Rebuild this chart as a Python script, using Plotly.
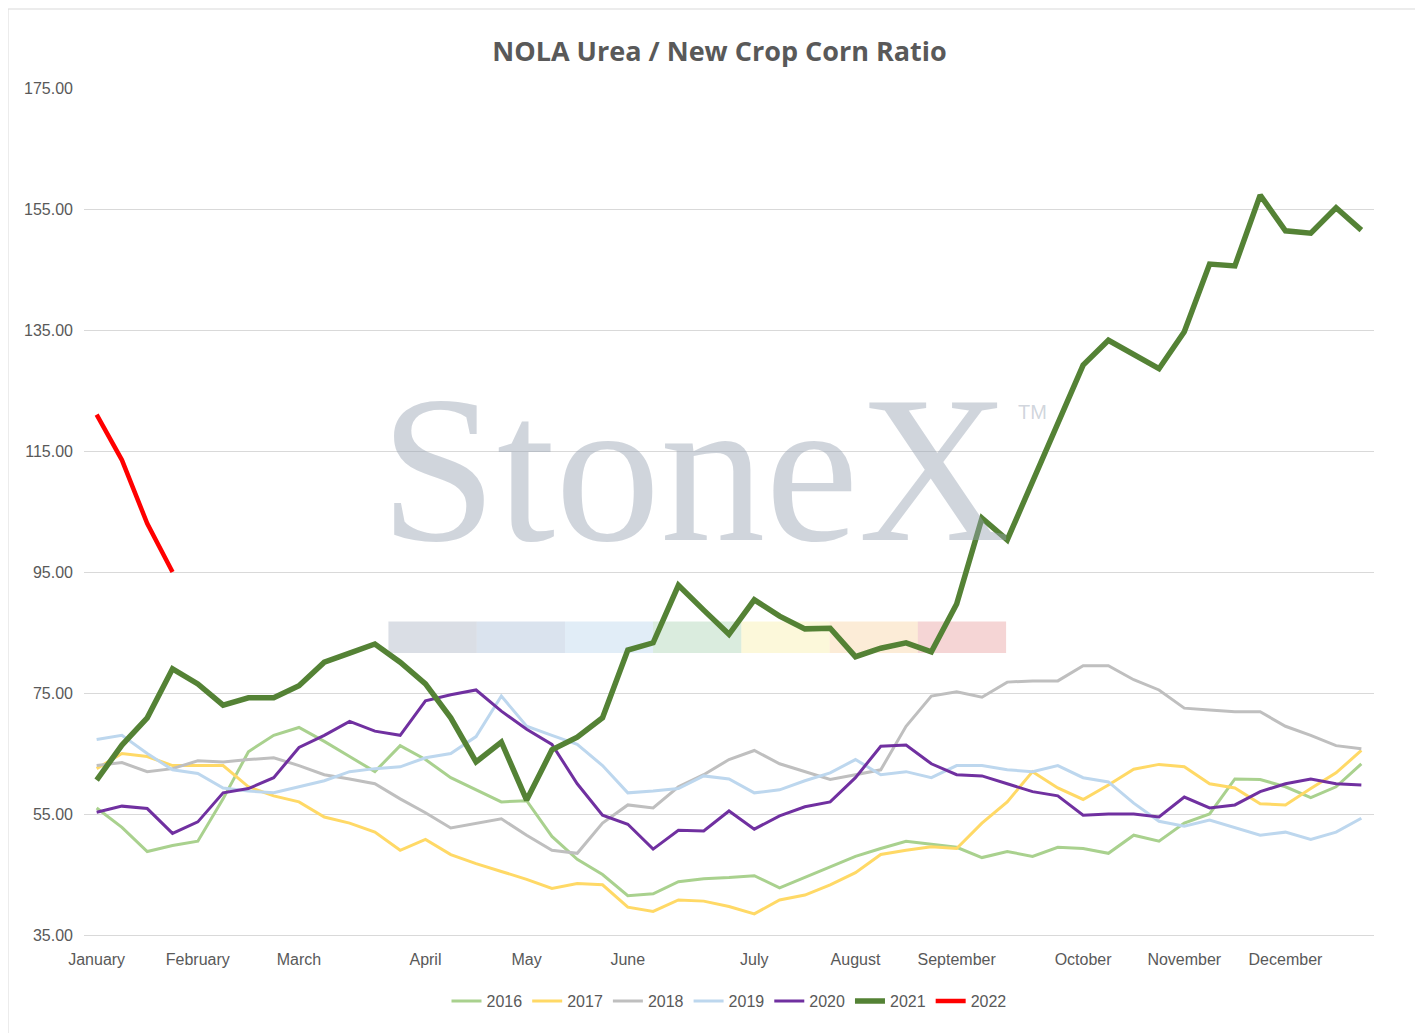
import plotly.graph_objects as go

month_labels = ["January", "February", "March", "April", "May", "June", "July",
                "August", "September", "October", "November", "December"]
month_pos = [0, 4, 8, 13, 17, 21, 26, 30, 34, 39, 43, 47]

y2016 = [56.0, 52.8, 48.8, 49.8, 50.5, 57.5, 65.3, 68.0, 69.3, 67.0, 64.5, 62.0, 66.3, 64.0, 61.0, 59.0, 57.0,
         57.2, 51.3, 47.5, 45.0, 41.5, 41.8, 43.8, 44.3, 44.5, 44.8, 42.8, 44.5, 46.3, 48.0, 49.3, 50.5, 50.0,
         49.5, 47.8, 48.8, 48.0, 49.5, 49.3, 48.5, 51.5, 50.5, 53.5, 55.0, 60.8, 60.7, 59.5, 57.7, 59.5, 63.3]
y2017 = [62.5, 65.0, 64.5, 63.0, 63.0, 63.0, 59.5, 58.0, 57.0, 54.5, 53.5, 52.0, 49.0, 50.8, 48.3, 46.8, 45.5,
         44.2, 42.7, 43.5, 43.3, 39.6, 38.9, 40.8, 40.6, 39.7, 38.5, 40.8, 41.6, 43.3, 45.3, 48.3, 49.0, 49.6,
         49.3, 53.5, 57.0, 62.0, 59.3, 57.4, 59.8, 62.4, 63.2, 62.8, 60.0, 59.3, 56.7, 56.5, 59.2, 61.8, 65.5]
y2018 = [63.0, 63.5, 62.0, 62.5, 63.8, 63.6, 64.0, 64.3, 63.0, 61.5, 60.8, 60.0, 57.5, 55.2, 52.7, 53.5, 54.2,
         51.5, 49.0, 48.5, 53.5, 56.5, 56.0, 59.5, 61.5, 64.0, 65.5, 63.3, 62.0, 60.7, 61.5, 62.3, 69.5, 74.5,
         75.2, 74.3, 76.8, 77.0, 77.0, 79.5, 79.5, 77.2, 75.5, 72.5, 72.2, 71.9, 71.9, 69.5, 68.0, 66.3, 65.8]
y2019 = [67.3, 68.0, 65.0, 62.3, 61.7, 59.3, 58.8, 58.5, 59.5, 60.5, 62.0, 62.5, 62.8, 64.3, 65.0, 67.8, 74.5,
         69.5, 68.0, 66.5, 63.0, 58.5, 58.8, 59.2, 61.3, 60.8, 58.5, 59.0, 60.5, 61.8, 64.0, 61.5, 62.0, 61.0,
         63.0, 63.0, 62.3, 62.0, 63.0, 61.0, 60.3, 56.8, 53.8, 53.0, 54.0, 52.7, 51.5, 52.0, 50.8, 52.0, 54.3]
y2020 = [55.3, 56.3, 55.9, 51.8, 53.7, 58.5, 59.2, 61.0, 66.0, 68.0, 70.3, 68.7, 68.0, 73.7, 74.7, 75.5, 72.0,
         69.0, 66.5, 60.0, 54.8, 53.3, 49.2, 52.3, 52.2, 55.5, 52.5, 54.7, 56.2, 57.0, 61.0, 66.2, 66.4, 63.3,
         61.5, 61.3, 60.0, 58.7, 58.0, 54.8, 55.0, 55.0, 54.5, 57.8, 56.0, 56.5, 58.7, 60.0, 60.8, 60.0, 59.8]
y2021 = [60.6, 66.4, 70.9, 79.0, 76.5, 73.0, 74.2, 74.2, 76.2, 80.1, 81.6, 83.1, 80.1, 76.5, 70.9, 63.6, 66.9,
         57.3, 65.6, 67.7, 70.9, 82.1, 83.3, 92.8, 88.7, 84.7, 90.4, 87.7, 85.6, 85.7, 81.0, 82.4, 83.3, 81.8,
         89.7, 103.9, 100.3, 109.9, 119.5, 129.2, 133.3, 130.9, 128.6, 134.7, 145.9, 145.6, 157.3, 151.4, 151.0,
         155.2, 151.5]
y2022 = [121.0, 113.5, 103.0, 95.0]

series = [("2016", y2016, "#a9d18e", 3), ("2017", y2017, "#ffd966", 3), ("2018", y2018, "#bfbfbf", 3),
          ("2019", y2019, "#bdd7ee", 3), ("2020", y2020, "#7030a0", 3), ("2021", y2021, "#548235", 5.5),
          ("2022", y2022, "#ff0000", 4.5)]

fig = go.Figure()
for name, ys, color, w in series:
    fig.add_trace(go.Scatter(x=list(range(len(ys))), y=ys, name=name, mode="lines",
                             line=dict(color=color, width=w)))

# watermark
fig.add_annotation(text="StoneX", x=0.474, y=0.55, xref="paper", yref="paper", showarrow=False,
                   font=dict(family="Liberation Serif", size=210, color="rgba(150,162,178,0.45)"))
fig.add_annotation(text="TM", x=0.748, y=0.617, xref="paper", yref="paper", showarrow=False,
                   font=dict(family="Liberation Sans", size=20, color="rgba(150,162,178,0.45)"))
band = ["rgba(150,160,180,0.35)", "rgba(150,175,205,0.35)", "rgba(180,210,235,0.4)",
        "rgba(150,200,160,0.35)", "rgba(245,235,150,0.35)", "rgba(245,200,140,0.35)", "rgba(230,150,150,0.4)"]
x0, step = 0.236, 0.0684
for i, c in enumerate(band):
    fig.add_shape(type="rect", xref="paper", yref="paper", x0=x0 + i * step, x1=x0 + (i + 1) * step,
                  y0=0.333, y1=0.37, fillcolor=c, line=dict(width=0), layer="below")

fig.update_layout(
    width=1423, height=1033,
    title=dict(text="<b>NOLA Urea / New Crop Corn Ratio</b>", x=0.5, y=0.967, xanchor="center",
               font=dict(family="Open Sans", size=27, color="#595959")),
    paper_bgcolor="white", plot_bgcolor="white",
    margin=dict(l=76, r=57, t=80, b=106),
    font=dict(family="Liberation Sans", size=16, color="#595959"),
    showlegend=True,
    legend=dict(orientation="h", x=0.5, xanchor="center", y=-0.058, yanchor="top",
                font=dict(size=16, color="#595959")),
    xaxis=dict(range=[-0.5, 50.5], tickvals=month_pos, ticktext=month_labels, showgrid=False,
               showline=True, linecolor="#d9d9d9", zeroline=False, ticks="", ticklabelstandoff=10),
    yaxis=dict(range=[35, 175], tickvals=[35, 55, 75, 95, 115, 135, 155, 175], tickformat=".2f",
               showgrid=True, gridcolor="#d9d9d9", zeroline=False, ticks="", ticklabelstandoff=10),
)
fig.add_shape(type="rect", xref="paper", yref="paper", x0=-76/1290, x1=1+56/1290, y0=-105/847, y1=1+79/847,
              line=dict(color="#d9d9d9", width=1))
fig.write_html("out.html")
